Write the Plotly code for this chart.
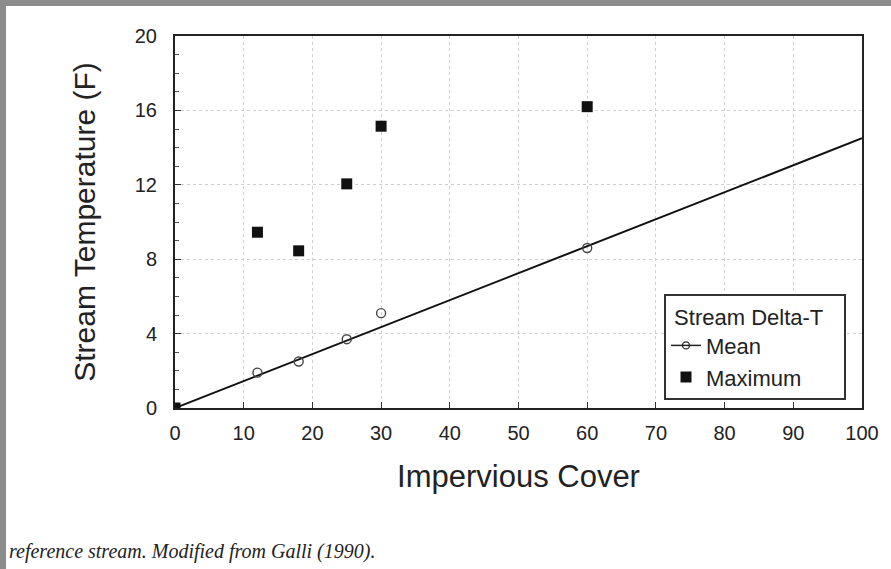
import plotly.graph_objects as go

# Data
cover = [0, 12, 18, 25, 30, 60]
mean_dt = [0, 1.9, 2.5, 3.7, 5.1, 8.6]
max_dt = [0, 9.45, 8.45, 12.05, 15.15, 16.2]
fit_x = [0, 100]
fit_y = [0, 14.5]
x_ticks = [0, 10, 20, 30, 40, 50, 60, 70, 80, 90, 100]
y_ticks = [0, 4, 8, 12, 16, 20]

L, R, T, B = 175, 29, 36, 161
WIDTH, HEIGHT = 891, 569
PW = WIDTH - L - R
PH = HEIGHT - T - B

def px_x(p):
    return (p - L) / PW

def px_y(p):
    return (HEIGHT - B - p) / PH

FONT = "Liberation Sans, Arial, sans-serif"

fig = go.Figure()

# regression line
fig.add_trace(go.Scatter(x=fit_x, y=fit_y, mode="lines",
                         line=dict(color="#111", width=2),
                         showlegend=False, hoverinfo="skip"))
# mean points
fig.add_trace(go.Scatter(x=cover, y=mean_dt, mode="markers",
                         marker=dict(symbol="circle-open", size=9,
                                     color="#444", line=dict(width=1.4)),
                         showlegend=False))
# legend proxy for mean
fig.add_trace(go.Scatter(x=[None], y=[None], mode="lines+markers", name="Mean",
                         line=dict(color="#222", width=1.5),
                         marker=dict(symbol="circle-open", size=7, color="#222",
                                     line=dict(width=1.3))))
# maximum points
fig.add_trace(go.Scatter(x=cover, y=max_dt, mode="markers", name="Maximum",
                         marker=dict(symbol="square", size=11, color="#111")))

axis_font = dict(family=FONT, size=20, color="#222")

fig.update_xaxes(range=[0, 100], tickvals=x_ticks, ticks="inside", ticklen=6,
                 tickcolor="#333", showline=True, linecolor="#222", linewidth=2,
                 mirror=True, showgrid=True, gridcolor="#d0d0d0", griddash="dot",
                 gridwidth=1, zeroline=False, tickfont=axis_font,
                 ticklabelstandoff=6,
                 title=dict(text="Impervious Cover", standoff=22,
                            font=dict(family=FONT, size=31, color="#222")))
fig.update_yaxes(range=[0, 20], tickvals=y_ticks, ticks="inside", ticklen=6,
                 tickcolor="#333", showline=True, linecolor="#222", linewidth=2,
                 mirror=True, showgrid=True, gridcolor="#d0d0d0", griddash="dot",
                 gridwidth=1, zeroline=False, tickfont=axis_font,
                 ticklabelstandoff=12,
                 minor=dict(dtick=1, ticks="inside", ticklen=4, tickcolor="#555",
                            showgrid=False),
                 title=dict(text="Stream Temperature (F)", standoff=30,
                            font=dict(family=FONT, size=30, color="#222")))

shapes = [
    dict(type="rect", xref="paper", yref="paper",
         x0=px_x(0), x1=px_x(6), y0=px_y(HEIGHT), y1=px_y(0),
         fillcolor="#8c8c8c", line=dict(width=0), layer="below"),
    dict(type="rect", xref="paper", yref="paper",
         x0=px_x(0), x1=px_x(WIDTH), y0=px_y(6), y1=px_y(0),
         fillcolor="#8c8c8c", line=dict(width=0), layer="below"),
]

fig.update_layout(
    width=WIDTH, height=HEIGHT,
    margin=dict(l=L, r=R, t=T, b=B),
    paper_bgcolor="white", plot_bgcolor="white",
    shapes=shapes,
    legend=dict(x=px_x(664), y=px_y(294), xanchor="left", yanchor="top",
                bgcolor="white", bordercolor="#333", borderwidth=2,
                font=dict(family=FONT, size=22, color="#222"),
                title=dict(text="\u00a0Stream Delta-T\u00a0\u00a0\u00a0",
                           font=dict(family=FONT, size=22, color="#222")),
                itemwidth=30, tracegroupgap=0),
    annotations=[dict(text="<i>reference stream. Modified from Galli (1990).</i>",
                      xref="paper", yref="paper", x=px_x(7), y=px_y(565),
                      xanchor="left", yanchor="bottom", showarrow=False,
                      font=dict(family="Liberation Serif, Times New Roman, serif",
                                size=20, color="#222"))],
)

fig.write_html("out.html")
